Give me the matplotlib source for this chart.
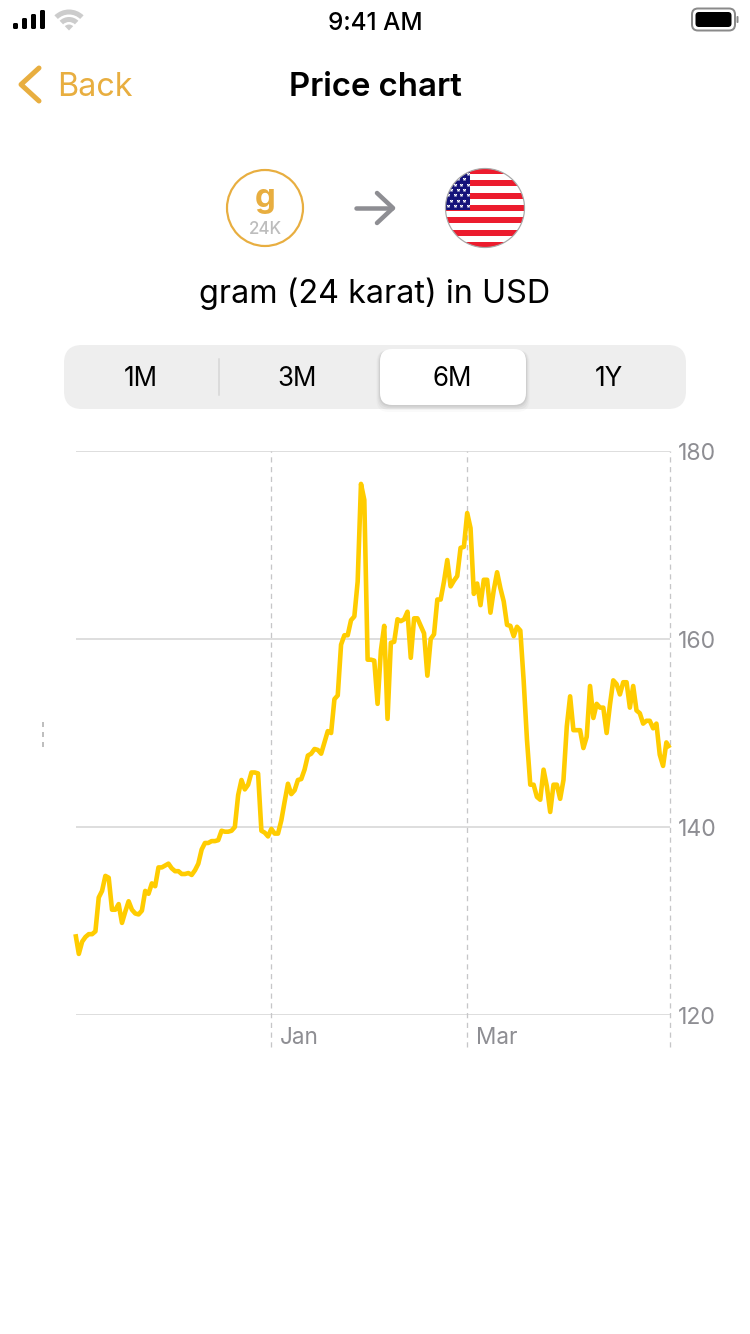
import matplotlib
matplotlib.use('Agg')
import matplotlib.pyplot as plt
from matplotlib import dates as mpldates
from matplotlib.patches import Circle, FancyBboxPatch, Rectangle, Wedge
import pandas as pd

plt.rcParams['font.family'] = ['Inter', 'DejaVu Sans']

W, H = 750, 1334

# daily price of a gram of 24 karat gold in USD
start_date = '2018-11-03'
prices = [
    128.6, 126.5, 127.8, 128.3, 128.6, 128.6, 128.9, 132.5, 133.2, 134.8,
    134.6, 131.2, 131.2, 131.8, 129.8, 131.0, 132.1, 131.2, 130.8, 130.7,
    131.1, 133.2, 132.9, 134.0, 133.7, 135.7, 135.7, 135.9, 136.1, 135.6,
    135.3, 135.3, 135.0, 135.0, 135.1, 134.9, 135.4, 136.1, 137.6, 138.3,
    138.3, 138.5, 138.5, 138.6, 139.6, 139.5, 139.5, 139.6, 140.0, 143.4,
    145.0, 144.0, 144.5, 145.8, 145.8, 145.7, 139.6, 139.4, 139.0, 139.8,
    139.3, 139.3, 140.7, 142.7, 144.6, 143.5, 143.9, 145.0, 145.1, 146.1,
    147.6, 147.8, 148.3, 148.2, 147.8, 149.0, 150.2, 150.0, 153.6, 154.0,
    159.4, 160.4, 160.4, 162.0, 162.4, 166.1, 176.5, 174.8, 157.8, 157.8,
    157.7, 153.1, 158.8, 161.4, 151.5, 159.6, 159.7, 162.1, 161.9, 162.1,
    162.9, 158.0, 162.2, 162.2, 161.4, 160.6, 156.1, 160.0, 160.5, 164.2,
    164.2, 166.1, 168.4, 165.6, 166.2, 166.7, 169.7, 169.8, 173.4, 171.8,
    164.8, 165.9, 163.6, 166.3, 166.3, 162.8, 165.2, 167.1, 165.4, 164.0,
    161.5, 161.4, 160.3, 161.3, 160.9, 155.6, 149.3, 144.5, 144.5, 143.2,
    142.9, 146.1, 144.3, 141.6, 144.5, 144.5, 143.0, 145.0, 150.7, 153.9,
    150.3, 150.3, 150.3, 148.4, 149.6, 155.0, 151.6, 153.1, 152.7, 152.7,
    150.0, 153.0, 155.6, 155.2, 154.1, 155.4, 155.4, 152.7, 155.0, 152.4,
    152.1, 151.0, 151.3, 151.3, 150.5, 151.0, 147.7, 146.5, 149.0, 148.4,
]
y_ticks = [120, 140, 160, 180]
month_ticks = ['2019-01-01', '2019-03-01', '2019-05-01']
month_labels = ['Jan', 'Mar', '']
periods = ['1M', '3M', '6M', '1Y']
period_centers = [141, 297.5, 452.5, 609]

gold = '#E8AE40'
line_yellow = '#FFCC00'
grid_gray = '#DEDEDE'
dash_gray = '#C6C6C8'
label_gray = '#8E8E93'

dates = pd.date_range(start_date, periods=len(prices), freq='D')
month_dates = mpldates.date2num(pd.to_datetime(month_ticks))

fig = plt.figure(figsize=(W / 100, H / 100), dpi=100, facecolor='white')


def px(size):
    # font size / line width given in image pixels
    return size * 0.72


# screen furniture, in image pixels
ui = fig.add_axes([0, 0, 1, 1], zorder=0)
ui.set_xlim(0, W)
ui.set_ylim(H, 0)
ui.axis('off')


def rounded(x0, y0, x1, y1, r, **kw):
    patch = FancyBboxPatch((x0 + r, y0 + r), x1 - x0 - 2 * r, y1 - y0 - 2 * r,
                           boxstyle='round,pad=%f,rounding_size=%f' % (r, r), **kw)
    ui.add_patch(patch)
    return patch


# status bar
for x0, x1, top in [(13, 18, 23), (22, 27, 18), (31, 36, 14), (40, 45, 10)]:
    rounded(x0, top, x1, 29, 1.5, fc='black', ec='none')
for r_out, r_wid in [(21, 5), (13.5, 5), (6, 6)]:
    ui.add_patch(Wedge((69, 30.5), r_out, 226, 314, width=r_wid, fc='#CCCCCC', ec='none'))
ui.text(375, 23, '9:41 AM', ha='center', va='center', fontsize=px(24.3), fontweight='medium')
rounded(692, 8.5, 735, 30.5, 6, fc='none', ec='#8A8A8A', lw=px(2))
rounded(695.5, 12, 731.5, 27, 3.5, fc='black', ec='none')
rounded(736.5, 16, 738.5, 23, 1, fc='#8A8A8A', ec='none')

# navigation bar
ui.plot([39, 21, 39], [68, 84.5, 101], color=gold, lw=px(5), solid_capstyle='round',
        solid_joinstyle='round')
ui.text(57.5, 87, 'Back', ha='left', va='center', fontsize=px(32.3), color=gold)
ui.text(375, 87, 'Price chart', ha='center', va='center', fontsize=px(33), fontweight='semibold')

# gram icon
ui.add_patch(Circle((265, 208), 38, fc='white', ec=gold, lw=px(2.2)))
ui.text(265, 199, 'g', ha='center', va='center', fontsize=px(33), fontweight='bold', color=gold)
ui.text(265, 230, '24K', ha='center', va='center', fontsize=px(17), fontweight='medium', color='#BDBDBD')

# arrow
ui.plot([356, 392], [208, 208], color=label_gray, lw=px(4.5), solid_capstyle='round')
ui.plot([377, 393, 377], [193, 208, 223], color=label_gray, lw=px(4.5),
        solid_capstyle='round', solid_joinstyle='round')

# flag in a circle
disc = Circle((485, 208), 39.5, transform=ui.transData)
stripe_h = 80 / 13
ui.add_patch(Rectangle((445, 168), 80, 80, fc='white', ec='none', clip_path=disc))
for i in range(0, 13, 2):
    ui.add_patch(Rectangle((445, 168 + i * stripe_h), 80, stripe_h, fc='#EC1C2E', ec='none',
                           clip_path=disc))
ui.add_patch(Rectangle((445, 168), 25, 42, fc='#14127A', ec='none', clip_path=disc))
star_x = []
star_y = []
for row in range(7):
    for col in range(4 if row % 2 == 0 else 3):
        star_x.append(448 + col * 6.5 + (0 if row % 2 == 0 else 3.2))
        star_y.append(174 + row * 5.3)
stars = ui.scatter(star_x, star_y, marker='*', s=8, c='white', linewidths=0)
stars.set_clip_path(disc)
ui.add_patch(Circle((485, 208), 39.5, fc='none', ec='#A8A8A8', lw=px(1.2)))

ui.text(375, 294, 'gram (24 karat) in USD', ha='center', va='center', fontsize=px(32.3))

# period selector
rounded(64, 345, 686, 409, 18, fc='#EEEEEE', ec='none')
for off, alpha in [(7, 0.02), (5, 0.03), (3, 0.04), (1.5, 0.05)]:
    rounded(380 - off / 2, 349 + 1, 526 + off / 2, 405 + off, 12, fc='black', ec='none', alpha=alpha)
rounded(380, 349, 526, 405, 12, fc='white', ec='none')
ui.plot([219, 219], [359, 395], color='#D6D6D6', lw=px(1.5))
for name, xc in zip(periods, period_centers):
    ui.text(xc, 379, name, ha='center', va='center', fontsize=px(26))

# small dashes left of the chart
for y in [724, 734, 744]:
    ui.plot([42.7, 42.7], [y - 2.5, y + 2.5], color='#ABABAB', lw=px(1.5), solid_capstyle='butt')

# the chart
ax = fig.add_axes([75.5 / W, 1 - 1015 / H, (669.7 - 75.5) / W, (1015 - 451) / H], zorder=1)
ax.patch.set_alpha(0)
for side in ax.spines:
    ax.spines[side].set_visible(False)
ax.set_xlim(dates[0], dates[-1])
ax.set_ylim(120, 180)

ax.set_yticks(y_ticks)
ax.yaxis.tick_right()
ax.tick_params(axis='y', length=0, pad=6, labelsize=px(23), labelcolor=label_gray)
ax.grid(axis='y', color=grid_gray, lw=px(2))
ax.set_axisbelow(True)

ax.set_xticks([])
bottom = -32 / (1015 - 451)
ax.vlines(month_dates, bottom, 1, transform=ax.get_xaxis_transform(), colors=dash_gray,
          lw=px(1.3), linestyles=(0, (4, 3.5)), clip_on=False, zorder=1)
for d, label in zip(month_dates, month_labels):
    ax.annotate(label, (d, 0), xycoords=ax.get_xaxis_transform(), xytext=(px(8.5), px(-23)),
                textcoords='offset points', ha='left', va='center', fontsize=px(22.5),
                color=label_gray)

ax.plot(dates, prices, color=line_yellow, lw=px(4.6), solid_joinstyle='round',
        solid_capstyle='butt', clip_on=False, zorder=3)

fig.savefig('out.png', dpi=100)
